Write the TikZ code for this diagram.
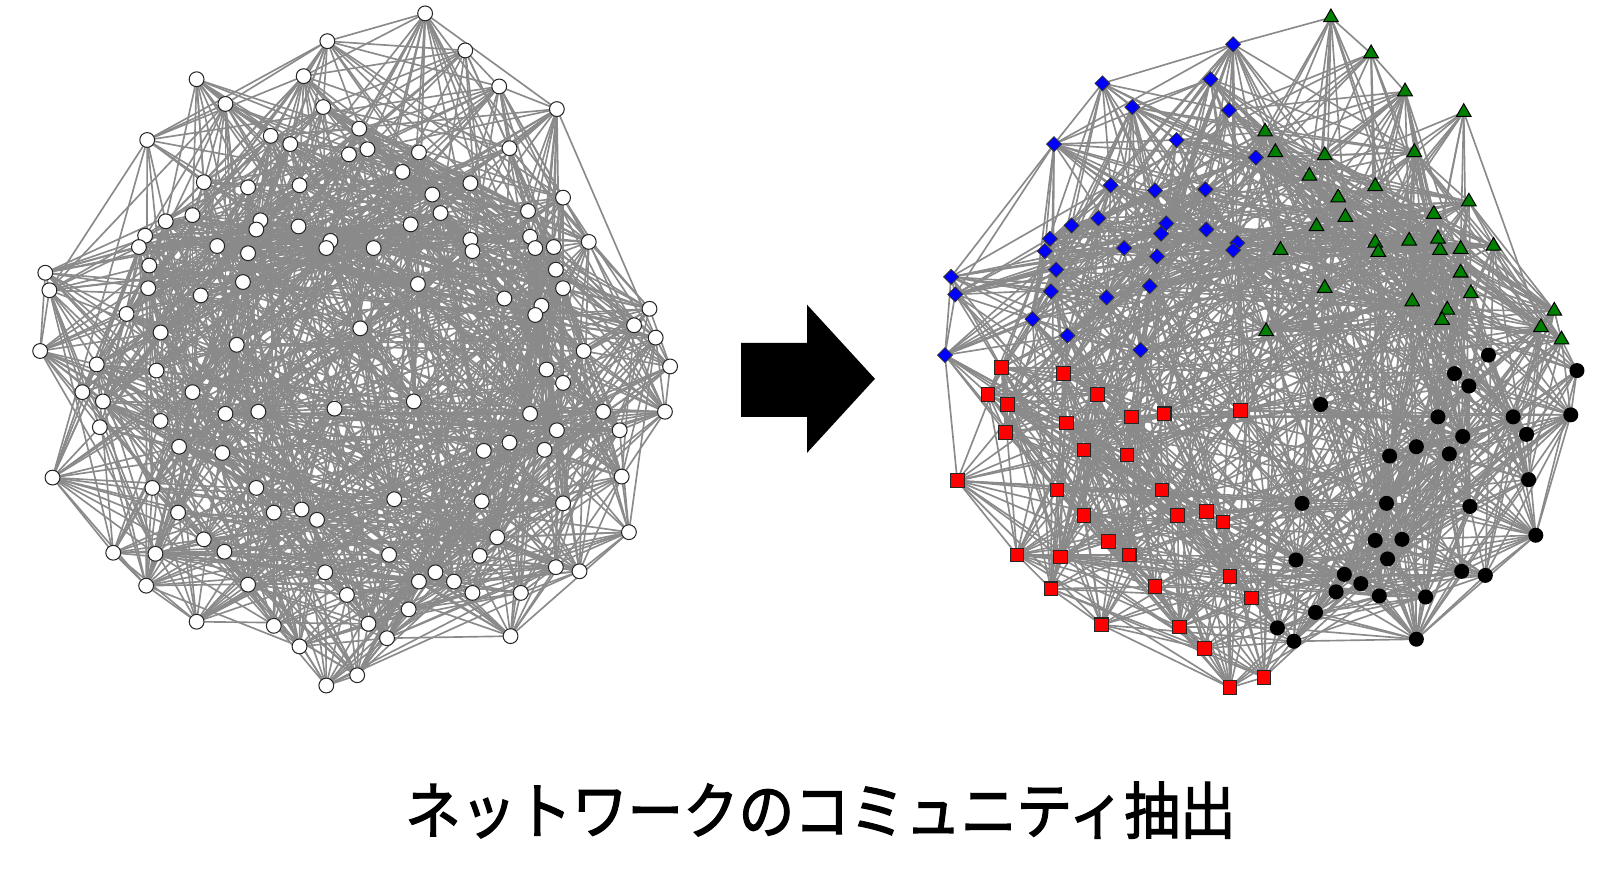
\documentclass[tikz,border=0pt]{standalone}
\usepackage{fontspec}
\newfontfamily\jp[FakeStretch=0.9,FakeBold=2]{Noto Sans CJK JP}
\usetikzlibrary{shapes.geometric}
\definecolor{edgegray}{RGB}{138,138,138}
\definecolor{nblue}{RGB}{0,0,255}
\definecolor{ngreen}{RGB}{0,128,0}
\definecolor{nred}{RGB}{255,0,0}
\pgfdeclarelayer{edges}
\pgfsetlayers{edges,main}
\tikzset{
  edge/.style={draw=edgegray, line width=0.8pt},
  nw/.style={circle, draw=black!85, fill=white, line width=0.5pt, minimum size=7.2pt, inner sep=0pt},
  nb/.style={diamond, draw=black!80, fill=nblue, line width=0.4pt, minimum size=7.4pt, inner sep=0pt},
  ng/.style={regular polygon, regular polygon sides=3, draw=black, fill=ngreen, line width=0.5pt, minimum size=8.2pt, inner sep=0pt},
  nr/.style={rectangle, draw=black!85, fill=nred, line width=0.5pt, minimum size=6.6pt, inner sep=0pt},
  nk/.style={circle, fill=black, minimum size=7.3pt, inner sep=0pt},
}
\def\Llist{413/13,318/40,452/49,191/77,295/74,485/84,219/101,314/104,541/106,143/136,263/132,349/125,282/140,357/145,339/150,407/148,495/144,391/167,198/177,241/182,291/180,457/178,420/189,547/192,428/207,161/215,187/209,253/214,249/223,290/220,399/218,513/205,141/229,135/240,211/239,241/246,321/234,317/241,363/241,457/233,459/244,515/230,520/241,538/240,572/235,145/258,44/265,48/282,236/274,406/276,540/262,547/280,144/280,195/287,490/290,526/297,520/306,123/305,631/300,616/316,156/323,350/319,637/328,39/341,230/335,567/341,94/354,152/360,531/359,651/356,547/372,80/381,187/381,100/390,402/390,325/397,646/400,219/402,251/400,586/400,156/409,515/402,97/415,541/418,602/418,174/434,216/440,470/438,495/430,529/437,51/464,604/463,148/474,249/474,383/485,468/487,547/489,173/498,293/495,266/498,308/505,611/517,198/524,483/522,110/537,218/536,151/538,378/539,466/540,316/556,540/551,563/555,423/556,407/565,241/568,142/569,441/565,337/578,459/576,506/576,397/592,191/604,266/608,358/606,376/620,291/628,496/618,347/656,317/666}
\def\Rlist{1198/43/b,1071/81/b,1176/77/b,1100/104/b,1194/107/b,1024/140/b,1143/136/b,1220/153/b,1079/180/b,1122/185/b,1171/184/b,1041/219/b,1067/212/b,1133/217/b,1172/223/b,1128/227/b,1020/232/b,1092/241/b,1124/249/b,1202/236/b,1198/243/b,1015/244/b,1026/262/b,924/269/b,928/286/b,1117/278/b,1021/283/b,1075/289/b,1003/310/b,1037/326/b,1108/340/b,918/345/b,1293/17/g,1332/52/g,1365/89/g,1422/109/g,1229/128/g,1239/148/g,1287/151/g,1374/148/g,1272/171/g,1336/181/g,1300/192/g,1427/196/g,1307/211/g,1279/220/g,1393/208/g,1244/243/g,1336/236/g,1339/245/g,1369/234/g,1399/243/g,1419/242/g,1397/232/g,1451/239/g,1419/265/g,1287/280/g,1372/293/g,1429/285/g,1406/301/g,1401/311/g,1510/302/g,1230/322/g,1497/318/g,1517/330/g,973/357/r,1033/363/r,960/383/r,979/393/r,1066/383/r,1036/411/r,1099/405/r,1131/402/r,1205/399/r,977/420/r,1053/437/r,1095/442/r,930/467/r,1027/476/r,1129/476/r,1053/501/r,1144/501/r,1172/497/r,1188/507/r,1077/526/r,1097/539/r,988/539/r,1030/541/r,1195/560/r,1122/570/r,1021/572/r,1216/581/r,1070/607/r,1146/609/r,1170/630/r,1195/668/r,1228/658/r,1446/345/k,1532/360/k,1413/363/k,1427/375/k,1283/393/k,1397/405/k,1470/405/k,1526/403/k,1421/424/k,1483/422/k,1376/434/k,1350/443/k,1408/441/k,1485/466/k,1265/489/k,1347/489/k,1428/492/k,1492/520/k,1362/524/k,1336/525/k,1259/544/k,1348/543/k,1306/558/k,1420/555/k,1443/559/k,1322/567/k,1298/575/k,1340/579/k,1385/580/k,1278/595/k,1241/610/k,1376/621/k,1257/623/k}
\begin{document}
\begin{tikzpicture}[x=0.5pt,y=-0.5pt]
\useasboundingbox (0,0) rectangle (1568,860);
% left network nodes
\foreach \x/\y [count=\i] in \Llist {
  \expandafter\xdef\csname LX\i\endcsname{\x}
  \expandafter\xdef\csname LY\i\endcsname{\y}
  \xdef\Ln{\i}
  \node[nw] (L\i) at (\x,\y) {};
}
% right network nodes
\foreach \x/\y/\c [count=\i] in \Rlist {
  \expandafter\xdef\csname RX\i\endcsname{\x}
  \expandafter\xdef\csname RY\i\endcsname{\y}
  \expandafter\xdef\csname RK\i\endcsname{\c}
  \xdef\Rn{\i}
  \node[n\c] (R\i) at (\x,\y) {};
}
\pgfmathtruncatemacro\Lm{\Ln-1}
\pgfmathtruncatemacro\Rm{\Rn-1}
\begin{pgfonlayer}{edges}
\pgfmathsetseed{4242}
\foreach \i in {1,...,\Lm}{
  \pgfmathtruncatemacro\ii{\i+1}
  \edef\xa{\csname LX\i\endcsname}\edef\ya{\csname LY\i\endcsname}
  \foreach \j in {\ii,...,\Ln}{
    \edef\xb{\csname LX\j\endcsname}\edef\yb{\csname LY\j\endcsname}
    \pgfmathsetmacro\dd{veclen((\xa-\xb)/100,(\ya-\yb)/100)}
    \pgfmathtruncatemacro\ok{rnd<0.72*exp(-\dd*100/175)}
    \ifnum\ok=1 \draw[edge] (L\i.center) -- (L\j.center);\fi
  }
}
\foreach \i in {1,...,\Rm}{
  \pgfmathtruncatemacro\ii{\i+1}
  \edef\xa{\csname RX\i\endcsname}\edef\ya{\csname RY\i\endcsname}
  \edef\ca{\csname RK\i\endcsname}
  \foreach \j in {\ii,...,\Rn}{
    \edef\xb{\csname RX\j\endcsname}\edef\yb{\csname RY\j\endcsname}
    \edef\cb{\csname RK\j\endcsname}
    \ifx\ca\cb\def\fac{1.4}\else\def\fac{0.85}\fi
    \pgfmathsetmacro\dd{veclen((\xa-\xb)/100,(\ya-\yb)/100)}
    \pgfmathtruncatemacro\ok{rnd<\fac*0.66*exp(-\dd*100/175)}
    \ifnum\ok=1 \draw[edge] (R\i.center) -- (R\j.center);\fi
  }
}
\end{pgfonlayer}
% arrow
\fill[black] (720,333) -- (784,333) -- (784,296) -- (850,368) -- (784,440) -- (784,405) -- (720,405) -- cycle;
% title
\node[font=\jp\fontsize{30}{34}\selectfont, inner sep=0pt] (title) at (797,787) {ネットワークのコミュニティ抽出};
\end{tikzpicture}
\end{document}
